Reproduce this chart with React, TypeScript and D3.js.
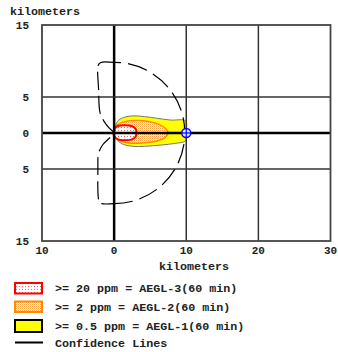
import React, { useRef, useEffect } from 'react';
import * as d3 from 'd3';

const W = 338;
const H = 352;
const FONT = '"Liberation Mono", "DejaVu Sans Mono", monospace';

// axis ticks (km)
const xTicks = [-10, 0, 10, 20, 30];
const xTickLabels = ['10', '0', '10', '20', '30'];
const yTicks = [15, 5, 0, -5, -15];
const yTickLabels = ['15', '5', '0', '5', '15'];
const gridX = [0, 10, 20];
const gridY = [5, 0, -5];

// threat zone outlines, [downwind km, crosswind km]
const yellowZone: [number, number][] = [
  [0, 0], [0.17, 0.85], [0.5, 1.65], [1.3, 2.15], [2.6, 2.38], [4.2, 2.28],
  [5.9, 2.05], [7.8, 1.8], [9.93, 1.66], [9.95, 0], [9.93, -1.08], [8.4, -1.45],
  [6.7, -1.65], [4.2, -1.85], [2.6, -1.85], [1.1, -1.5], [0.35, -0.85],
];
const orangeZone: [number, number][] = [
  [0, 0], [0.3, 0.95], [1, 1.45], [2, 1.68], [3.5, 1.72], [5, 1.55], [6.2, 1.2],
  [7.05, 0.7], [7.5, 0], [7.05, -0.65], [6.2, -1.05], [5, -1.3], [3.5, -1.42],
  [2, -1.38], [1, -1.15], [0.3, -0.75],
];
const redZone: [number, number][] = [
  [-0.1, 0], [0.1, 0.65], [0.6, 1.0], [1.5, 1.08], [2.4, 0.98], [2.95, 0.6],
  [3.1, 0], [2.95, -0.55], [2.4, -0.92], [1.5, -1.02], [0.6, -0.92], [0.1, -0.58],
];

// confidence lines
const confidenceRadiusKm = 9.8;
const confidenceBack: [number, number][] = [
  [0, 9.8], [-1.85, 9.8], [-2.2, 9.4], [-2.15, 6], [-1.95, 2.8], [-1.35, 1.55],
  [-0.7, 0.7], [0, 0], [-0.7, -0.75], [-1.55, -1.6], [-2.15, -2.8], [-2.25, -5],
  [-2.15, -9.3], [-1.95, -9.75], [0, -9.8],
];
const markerPoint: [number, number] = [10, 0];

const legendLabels = [
  '>= 20 ppm = AEGL-3(60 min)',
  '>= 2 ppm = AEGL-2(60 min)',
  '>= 0.5 ppm = AEGL-1(60 min)',
  'Confidence Lines',
];

export default function App() {
  const svgRef = useRef<SVGSVGElement>(null);

  useEffect(() => {
    document.body.style.margin = '0';
    if (!svgRef.current) return;
    const svg = d3.select(svgRef.current);
    svg.selectAll('*').remove();

    const x = d3.scaleLinear().domain([-10, 30]).range([42, 330.5]);
    const y = d3.scaleLinear().domain([-15, 15]).range([241, 25]);

    const defs = svg.append('defs');
    const red = defs.append('pattern').attr('id', 'dotRed').attr('width', 3).attr('height', 3)
      .attr('patternUnits', 'userSpaceOnUse');
    red.append('rect').attr('width', 3).attr('height', 3).attr('fill', '#fff');
    red.append('rect').attr('x', 1).attr('y', 1).attr('width', 1).attr('height', 1).attr('fill', '#ff6060');
    const orange = defs.append('pattern').attr('id', 'dotOrange').attr('width', 2).attr('height', 2)
      .attr('patternUnits', 'userSpaceOnUse');
    orange.append('rect').attr('width', 2).attr('height', 2).attr('fill', '#fff');
    orange.append('rect').attr('width', 1).attr('height', 1).attr('fill', '#ffa040');
    orange.append('rect').attr('x', 1).attr('y', 1).attr('width', 1).attr('height', 1).attr('fill', '#ffd8a8');

    const zoneLine = d3.line<[number, number]>()
      .x((d) => x(d[0]))
      .y((d) => y(d[1]))
      .curve(d3.curveCatmullRomClosed.alpha(0.5));

    // threat zones
    svg.append('path').attr('d', zoneLine(yellowZone) ?? '')
      .attr('fill', '#ffff00').attr('stroke', '#777').attr('stroke-width', 1);
    svg.append('path').attr('d', zoneLine(orangeZone) ?? '')
      .attr('fill', 'url(#dotOrange)').attr('stroke', '#ff8c00').attr('stroke-width', 1.5);
    svg.append('path').attr('d', zoneLine(redZone) ?? '')
      .attr('fill', 'url(#dotRed)').attr('stroke', '#ff0000').attr('stroke-width', 2);

    // grid
    gridX.forEach((v) => {
      svg.append('line').attr('x1', x(v)).attr('x2', x(v)).attr('y1', y(15)).attr('y2', y(-15))
        .attr('stroke', v === 0 ? '#000' : '#333').attr('stroke-width', v === 0 ? 2.5 : 1.5);
    });
    gridY.forEach((v) => {
      svg.append('line').attr('x1', x(-10)).attr('x2', x(30)).attr('y1', y(v)).attr('y2', y(v))
        .attr('stroke', v === 0 ? '#000' : '#333').attr('stroke-width', v === 0 ? 2.5 : 1.5);
    });
    svg.append('rect').attr('x', x(-10)).attr('y', y(15))
      .attr('width', x(30) - x(-10)).attr('height', y(-15) - y(15))
      .attr('fill', 'none').attr('stroke', '#444').attr('stroke-width', 1.8);

    // confidence lines
    const backLine = d3.line<[number, number]>()
      .x((d) => x(d[0]))
      .y((d) => y(d[1]))
      .curve(d3.curveCatmullRom.alpha(0.5));
    svg.append('path').attr('d', backLine(confidenceBack) ?? '')
      .attr('fill', 'none').attr('stroke', '#000').attr('stroke-width', 1.2)
      .attr('stroke-dasharray', '18,6');
    const r = x(confidenceRadiusKm) - x(0);
    const p = d3.path();
    p.arc(x(0), y(0), r, -Math.PI / 2, Math.PI / 2);
    svg.append('path').attr('d', p.toString())
      .attr('fill', 'none').attr('stroke', '#000').attr('stroke-width', 1.2)
      .attr('stroke-dasharray', '20,7').attr('stroke-dashoffset', -14);

    // point of interest marker
    const mx = x(markerPoint[0]);
    const my = y(markerPoint[1]);
    svg.append('circle').attr('cx', mx).attr('cy', my).attr('r', 4.5)
      .attr('fill', '#e4ebff').attr('stroke', '#0000ff').attr('stroke-width', 1.5);
    svg.append('line').attr('x1', mx - 5).attr('x2', mx + 5).attr('y1', my).attr('y2', my)
      .attr('stroke', '#0000ff').attr('stroke-width', 1.2);
    svg.append('line').attr('x1', mx).attr('x2', mx).attr('y1', my - 5).attr('y2', my + 5)
      .attr('stroke', '#0000ff').attr('stroke-width', 1.2);

    // axis labels
    const txt = (tx: number, ty: number, s: string, anchor: string, size = 11) =>
      svg.append('text').attr('x', tx).attr('y', ty).attr('text-anchor', anchor)
        .attr('font-family', FONT).attr('font-weight', 'bold').attr('font-size', size)
        .attr('fill', '#222').text(s);

    yTicks.forEach((v, i) => txt(29, y(v) + 4, yTickLabels[i], 'end'));
    xTicks.forEach((v, i) => txt(x(v), 254, xTickLabels[i], 'middle'));
    txt(10, 15, 'kilometers', 'start', 11.7);
    txt(194, 270, 'kilometers', 'middle', 11.7);

    // legend
    const rowsY = [288, 307, 326, 342.5];
    svg.append('rect').attr('x', 15).attr('y', 283).attr('width', 27).attr('height', 10.5)
      .attr('fill', 'url(#dotRed)').attr('stroke', '#ff0000').attr('stroke-width', 2);
    svg.append('rect').attr('x', 15).attr('y', 301.5).attr('width', 27).attr('height', 10.5)
      .attr('fill', 'url(#dotOrange)').attr('stroke', '#ff8c00').attr('stroke-width', 2);
    svg.append('rect').attr('x', 15).attr('y', 320).attr('width', 27).attr('height', 12)
      .attr('fill', '#ffff00').attr('stroke', '#000').attr('stroke-width', 2);
    svg.append('line').attr('x1', 15).attr('x2', 43).attr('y1', rowsY[3]).attr('y2', rowsY[3])
      .attr('stroke', '#000').attr('stroke-width', 2);
    legendLabels.forEach((s, i) => txt(55, rowsY[i] + 4, s, 'start', 11.7));
  }, []);

  return <svg ref={svgRef} width={W} height={H} style={{ display: 'block' }} />;
}
